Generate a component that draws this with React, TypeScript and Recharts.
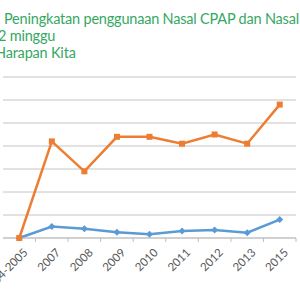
import React from "react";
import { LineChart, Line, XAxis, YAxis, CartesianGrid } from "recharts";

const years = ["2004-2005", "2007", "2008", "2009", "2010", "2011", "2012", "2013", "2015"];
const nasalCpap = [0, 5, 4, 2.5, 1.6, 3, 3.5, 2.3, 8];
const nasalOther = [0, 42, 29, 44, 44, 41, 45, 41, 58];
const yTicks = [0, 10, 20, 30, 40, 50, 60, 70];

const titleLines = ["Peningkatan penggunaan Nasal CPAP dan Nasal", "2 minggu", "Harapan Kita"];
const titleLeft = [4, -2, -5];

const data = years.map((year, i) => ({ year, cpap: nasalCpap[i], other: nasalOther[i] }));

const W = 300;
const H = 300;
const LEFT = 3;
const RIGHT = 4;
const TOP = 77;
const AXIS_H = 62;
const BAND = (W - LEFT - RIGHT) / years.length;
const AXIS_Y = H - AXIS_H;

const FONT = "Lato, 'Open Sans', sans-serif";

const Diamond = (props: any) => {
    const { cx, cy } = props;
    if (cx == null || cy == null) return null;
    const r = 3.5;
    return <path d={`M${cx},${cy - r}L${cx + r},${cy}L${cx},${cy + r}L${cx - r},${cy}Z`} fill="#5B9BD5" />;
};

const Square = (props: any) => {
    const { cx, cy } = props;
    if (cx == null || cy == null) return null;
    return <rect x={cx - 3} y={cy - 3} width={6} height={6} fill="#ED7D31" />;
};

// Excel-style: tick marks sit between categories, labels turned 45 degrees
const YearTick = ({ x, payload }: any) => (
    <g>
        <line x1={x + BAND / 2} x2={x + BAND / 2} y1={AXIS_Y} y2={AXIS_Y + 4} stroke="#bfbfbf" />
        <text
            x={x + 3}
            y={AXIS_Y + 9}
            transform={`rotate(-45 ${x + 3} ${AXIS_Y + 9})`}
            textAnchor="end"
            dominantBaseline="hanging"
            fontSize={11.5}
            fill="#595959"
            fontFamily={FONT}
        >
            {payload.value}
        </text>
    </g>
);

export default function App() {
    return (
        <div style={{ position: "fixed", left: 0, top: 0, width: W, height: H, overflow: "hidden", background: "#fff" }}>
            {titleLines.map((t, i) => (
                <div
                    key={i}
                    style={{
                        position: "absolute",
                        left: titleLeft[i],
                        top: 10 + i * 17,
                        fontFamily: FONT,
                        fontSize: 14.5,
                        letterSpacing: -0.2,
                        lineHeight: "17px",
                        color: "#35a862",
                        whiteSpace: "nowrap",
                    }}
                >
                    {t}
                </div>
            ))}
            <div style={{ position: "absolute", left: 0, top: 0 }}>
                <LineChart width={W} height={H} data={data} margin={{ top: TOP, right: RIGHT, left: LEFT, bottom: 0 }}>
                    <CartesianGrid vertical={false} stroke="#c4c4c4" />
                    <XAxis
                        dataKey="year"
                        height={AXIS_H}
                        interval={0}
                        padding={{ left: BAND / 2, right: BAND / 2 }}
                        tickLine={false}
                        axisLine={{ stroke: "#bfbfbf" }}
                        tick={<YearTick />}
                    />
                    <YAxis
                        width={0}
                        domain={[0, 70]}
                        ticks={yTicks}
                        tickFormatter={() => ""}
                        tickLine={false}
                        axisLine={{ stroke: "#bfbfbf" }}
                    />
                    <Line
                        dataKey="cpap"
                        type="linear"
                        stroke="#5B9BD5"
                        strokeWidth={2.5}
                        dot={<Diamond />}
                        isAnimationActive={false}
                    />
                    <Line
                        dataKey="other"
                        type="linear"
                        stroke="#ED7D31"
                        strokeWidth={2.5}
                        dot={<Square />}
                        isAnimationActive={false}
                    />
                </LineChart>
            </div>
        </div>
    );
}
